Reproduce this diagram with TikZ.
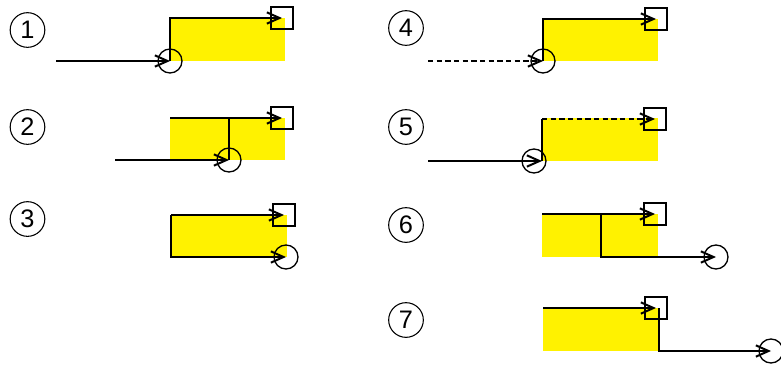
\documentclass[tikz,border=0pt]{standalone}
\usepackage{fontspec}
\newfontfamily\numfont{Liberation Sans}
\usetikzlibrary{arrows.meta}
\tikzset{
  flow/.style={line width=1.5pt,-{Straight Barb[length=9.5pt,width=8.5pt]}},
  plain/.style={line width=1.5pt},
  dashflow/.style={flow,dash pattern=on 4pt off 2.5pt},
  target/.style={draw,line width=1pt,minimum size=16.5pt,inner sep=0pt},
  source/.style={draw,circle,line width=1pt,minimum size=18pt,inner sep=0pt},
  area/.style={fill=yellow},
  tag/.style={draw,circle,line width=0.8pt,minimum size=26pt,inner sep=0pt,
    font=\numfont\fontsize{19}{19}\selectfont}
}
\begin{document}
\begin{tikzpicture}[x=0.75pt,y=-0.75pt]
\useasboundingbox (0,0) rectangle (781,365);

% yellow areas
\fill[area] (170,18) rectangle (285,61);
\fill[area] (170,118) rectangle (285,160);
\fill[area] (171,215) rectangle (287,257);
\fill[area] (542,19) rectangle (658,61);
\fill[area] (542,118) rectangle (658,161);
\fill[area] (542,214) rectangle (658,257);
\fill[area] (543,308) rectangle (658,351);

% numbered circles
\node[tag] (n1) at (27.5,30) {1};
\node[tag] (n2) at (27.5,127) {2};
\node[tag] (n3) at (27.5,219) {3};
\node[tag] (n4) at (406,28) {4};
\node[tag] (n5) at (406,127) {5};
\node[tag] (n6) at (406,225) {6};
\node[tag] (n7) at (406,320) {7};

% targets and sources
\node[target] (s1) at (282,18) {};
\node[source] (c1) at (170,61) {};
\node[target] (s2) at (282,118) {};
\node[source] (c2) at (229,160) {};
\node[target] (s3) at (284,215) {};
\node[source] (c3) at (286,257) {};
\node[target] (s4) at (656,19) {};
\node[source] (c4) at (543,61) {};
\node[target] (s5) at (655,119) {};
\node[source] (c5) at (534,161) {};
\node[target] (s6) at (655,214) {};
\node[source] (c6) at (716,257) {};
\node[target] (s7) at (656,308) {};
\node[source] (c7) at (771,351) {};

% free ends and corners
\coordinate (a1) at (56,61);
\coordinate (a2) at (115,160);
\coordinate (t2) at (170,118);
\coordinate (j2) at (229,118);
\coordinate (k3) at (171,215);
\coordinate (a4) at (428,61);
\coordinate (a5) at (428,161);
\coordinate (p5) at (542,161);
\coordinate (q5) at (542,119);
\coordinate (t6) at (542,214);
\coordinate (j6) at (601,214);
\coordinate (t7) at (543,308);

% 1
\draw[flow] (a1) -- (c1.center);
\draw[flow] (c1.center) |- (s1.center);
% 2
\draw[flow] (t2) -- (s2.center);
\draw[plain] (j2) -- (c2.center);
\draw[flow] (a2) -- (c2.center);
% 3
\draw[flow] (k3) -- (s3.center);
\draw[flow] (k3) |- (c3.center);
% 4
\draw[dashflow] (a4) -- (c4.center);
\draw[flow] (c4.center) |- (s4.center);
% 5
\draw[flow] (a5) -- (p5);
\draw[plain] (p5) -- (q5);
\draw[dashflow] (q5) -- (s5.center);
% 6
\draw[flow] (t6) -- (s6.center);
\draw[flow] (j6) |- (c6.center);
% 7
\draw[flow] (t7) -- (s7.center);
\draw[flow] ([xshift=2]s7.center) |- (c7.center);
\end{tikzpicture}
\end{document}
